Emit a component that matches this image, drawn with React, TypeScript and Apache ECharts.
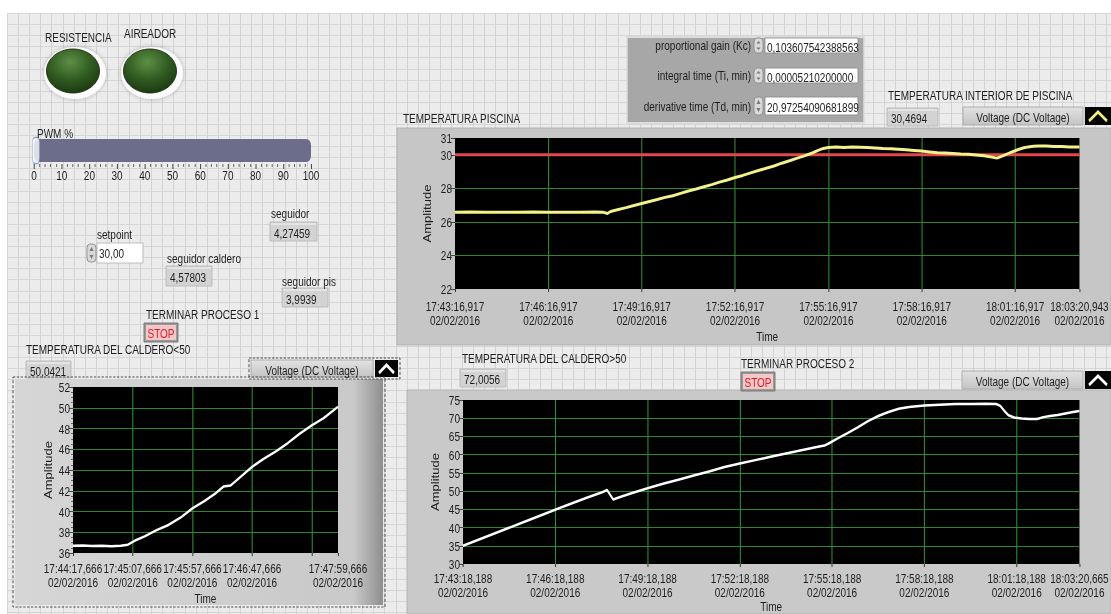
import React, { useEffect, useRef } from 'react';
import * as echarts from 'echarts';

const W = 1111;
const H = 614;
// the reference screenshot is horizontally compressed; the chart is laid out wider and squeezed with CSS
const SX = 0.77;
const LW = W / SX;
const X = (v: number) => v / SX;
const FONT = '"Liberation Sans", Arial, sans-serif';
const FS = 13;
const GREEN = '#2f9a2f';

// ---------- data ----------
const DATE_LABEL = '02/02/2016';
const SETPOINT = 30;
const PWM_VALUE = 0;
const PWM_TICK_INTERVAL = 10;

// TEMPERATURA PISCINA
const PISCINA_START = '17:43:16,917';
const PISCINA_END = '18:03:20,943';
const PISCINA_TICK_S = 180;
const PISCINA_Y_MIN = 22;
const PISCINA_Y_MAX = 31;
const PISCINA_Y_STEP = 2;
const PISCINA_T = [0, 30, 60, 90, 120, 150, 180, 210, 240, 270, 285, 294, 300, 315, 330, 345, 360, 375, 390, 405, 420, 435, 450, 465, 480, 495, 510, 525, 540, 555, 570, 585, 600, 615, 630, 645, 660, 675, 690, 700, 710, 720, 735, 750, 765, 780, 795, 810, 825, 840, 855, 870, 885, 900, 915, 930, 945, 960, 975, 990, 1005, 1020, 1035, 1045, 1055, 1065, 1075, 1085, 1095, 1105, 1115, 1125, 1140, 1155, 1170, 1185, 1204.026];
const PISCINA_V = [26.58, 26.59, 26.58, 26.57, 26.58, 26.59, 26.58, 26.57, 26.58, 26.59, 26.58, 26.5, 26.62, 26.74, 26.85, 26.98, 27.1, 27.22, 27.33, 27.46, 27.56, 27.7, 27.84, 27.96, 28.09, 28.22, 28.37, 28.5, 28.65, 28.77, 28.92, 29.06, 29.2, 29.33, 29.5, 29.64, 29.8, 29.95, 30.12, 30.26, 30.38, 30.43, 30.46, 30.44, 30.47, 30.45, 30.43, 30.41, 30.38, 30.36, 30.33, 30.3, 30.26, 30.22, 30.17, 30.12, 30.1, 30.08, 30.05, 30.03, 29.99, 29.94, 29.86, 29.8, 29.92, 30.05, 30.18, 30.3, 30.4, 30.47, 30.51, 30.53, 30.52, 30.5, 30.49, 30.46, 30.47];

// TEMPERATURA DEL CALDERO>50
const CALDERO_ALTO_START = '17:43:18,188';
const CALDERO_ALTO_END = '18:03:20,665';
const CALDERO_ALTO_TICK_S = 180;
const CALDERO_ALTO_Y_MIN = 30;
const CALDERO_ALTO_Y_MAX = 75;
const CALDERO_ALTO_Y_STEP = 5;
const CALDERO_ALTO_T = [0, 40, 80, 120, 160, 200, 240, 270, 281, 293, 305, 330, 360, 390, 420, 450, 480, 510, 540, 570, 600, 630, 660, 690, 705, 715, 730, 750, 770, 790, 810, 830, 850, 870, 900, 930, 960, 990, 1020, 1040, 1048, 1056, 1064, 1075, 1090, 1105, 1120, 1132, 1145, 1160, 1175, 1190, 1202.477];
const CALDERO_ALTO_V = [35.0, 37.2, 39.4, 41.6, 43.8, 46.0, 48.1, 49.6, 50.3, 47.7, 48.3, 49.5, 50.8, 52.0, 53.1, 54.3, 55.4, 56.6, 57.6, 58.5, 59.4, 60.3, 61.2, 62.1, 62.5, 63.2, 64.4, 65.9, 67.5, 69.2, 70.6, 71.7, 72.6, 73.1, 73.5, 73.7, 73.9, 73.9, 74.0, 73.9, 73.4, 72.0, 70.8, 70.2, 69.9, 69.8, 69.8, 70.3, 70.6, 70.9, 71.3, 71.7, 72.0];

// TEMPERATURA DEL CALDERO<50
const CALDERO_BAJO_START = '17:44:17,666';
const CALDERO_BAJO_END = '17:47:59,666';
const CALDERO_BAJO_TICK_S = 50;
const CALDERO_BAJO_Y_MIN = 36;
const CALDERO_BAJO_Y_MAX = 52;
const CALDERO_BAJO_Y_STEP = 2;
const CALDERO_BAJO_T = [0, 8, 16, 24, 32, 40, 46, 52, 60, 70, 80, 90, 100, 110, 120, 126, 132, 140, 150, 160, 170, 180, 190, 200, 210, 222];
const CALDERO_BAJO_V = [36.7, 36.72, 36.68, 36.7, 36.66, 36.7, 36.8, 37.2, 37.6, 38.2, 38.7, 39.4, 40.3, 41.0, 41.8, 42.4, 42.5, 43.3, 44.3, 45.1, 45.8, 46.6, 47.5, 48.3, 49.0, 50.1];

// panel values
const IND_PISCINA = '30,4694';
const IND_CALDERO_ALTO = '72,0056';
const IND_CALDERO_BAJO = '50,0421';
const PID_LABELS = ['proportional gain (Kc)', 'integral time (Ti, min)', 'derivative time (Td, min)'];
const PID_VALUES = ['0,103607542388563', '0,00005210200000', '20,97254090681899'];
const SETPOINT_TEXT = '30,00';
const SEGUIDOR = '4,27459';
const SEGUIDOR_CALDERO = '4,57803';
const SEGUIDOR_PIS = '3,9939';
const LEGEND_NAME = 'Voltage (DC Voltage)';

// ---------- helpers ----------
const toMs = (s: string) => {
  const [hms, ms] = s.split(',');
  const [h, m, sec] = hms.split(':').map(Number);
  return ((h * 60 + m) * 60 + sec) * 1000 + Number(ms);
};
const pad = (n: number, l = 2) => String(n).padStart(l, '0');
const timeFmt = (startMs: number, v: number) => {
  const t = startMs + Math.round(v * 1000);
  const h = Math.floor(t / 3600000);
  const m = Math.floor(t / 60000) % 60;
  const s = Math.floor(t / 1000) % 60;
  const ms = t % 1000;
  return `${h}:${pad(m)}:${pad(s)},${pad(ms, 3)}\n${DATE_LABEL}`;
};
const zip = (t: number[], v: number[]) => t.map((x, i) => [x, v[i]]);
const pts = (p: number[][]) => p.map(([x, y]) => [X(x), y]);

const txt = (x: number, y: number, text: string, extra: any = {}) => ({
  type: 'text', x: X(x), y, z: 6,
  style: { text, fontFamily: FONT, fontSize: FS, fill: '#1e1e1e', align: 'left', verticalAlign: 'middle', ...extra },
});
const rect = (x: number, y: number, w: number, h: number, style: any, z = -5, r = 0) => ({
  type: 'rect', z, shape: { x: X(x), y, width: X(w), height: h, r }, style,
});
const indicator = (x: number, y: number, w: number, h: number, value: string) => [
  rect(x, y, w, h, { fill: '#d3d3d3', stroke: '#b8b8b8', lineWidth: 1 }, 2),
  rect(x + 1, y + 1, w - 2, 2, { fill: '#e4e4e4' }, 3),
  txt(x + 4, y + h / 2 + 1, value),
];
const legend = (x: number, y: number, w: number, h: number, caret: string, iconW: number) => [
  rect(x, y, w - iconW - 2, h, {
    fill: new echarts.graphic.LinearGradient(0, 0, 0, 1, [
      { offset: 0, color: '#e2e2e2' }, { offset: 1, color: '#c4c4c4' },
    ]), stroke: '#a8a8a8', lineWidth: 1,
  }, 2),
  txt(x + (w - iconW - 2) / 2, y + h / 2 + 1, LEGEND_NAME, { align: 'center' }),
  rect(x + w - iconW, y, iconW, h, { fill: '#050505' }, 2),
  {
    type: 'polyline', z: 3,
    shape: { points: pts([[x + w - iconW + 4, y + h - 4], [x + w - iconW / 2, y + 5], [x + w - 4, y + h - 4]]) },
    style: { stroke: caret, lineWidth: 3, fill: 'none' },
  },
];
const led = (cx: number, cy: number) => [
  { type: 'ellipse', z: 1, shape: { cx: X(cx + 2), cy: cy + 2, rx: X(31), ry: 26 },
    style: { fill: '#fbfbfb', shadowBlur: 5, shadowColor: 'rgba(0,0,0,0.25)' } },
  { type: 'ellipse', z: 2, shape: { cx: X(cx), cy, rx: X(26.5), ry: 22 },
    style: {
      fill: new echarts.graphic.RadialGradient(0.45, 0.3, 0.75, [
        { offset: 0, color: '#5d8f44' }, { offset: 0.55, color: '#2f5a20' }, { offset: 1, color: '#1a3510' },
      ]),
      stroke: '#1a2e12', lineWidth: 1,
    } },
];
const stopBtn = (x: number, y: number) => [
  rect(x, y, 34, 19, { fill: '#9a9a9a', stroke: '#6e6e6e', lineWidth: 1 }, 2),
  rect(x + 2, y + 2, 30, 15, { fill: '#f1c9c9' }, 3),
  txt(x + 17, y + 10, 'STOP', { align: 'center', fill: '#e3182a' }),
];
const spinner = (x: number, y: number, h: number) => [
  rect(x, y, 9, h, { fill: '#d9d9d9', stroke: '#8a8a8a', lineWidth: 1 }, 3, 4),
  { type: 'polygon', z: 4, shape: { points: pts([[x + 2.5, y + h / 2 - 2], [x + 4.5, y + 3], [x + 6.5, y + h / 2 - 2]]) }, style: { fill: '#777' } },
  { type: 'polygon', z: 4, shape: { points: pts([[x + 2.5, y + h / 2 + 2], [x + 4.5, y + h - 3], [x + 6.5, y + h / 2 + 2]]) }, style: { fill: '#777' } },
];

function buildGraphic() {
  const g: any[] = [];
  g.push(rect(0, 0, W, H, { fill: '#ffffff' }, -30));
  g.push(rect(7, 13, W - 7, H - 13, { fill: '#ececec' }, -29));
  for (let x = 7; x < W; x += 11.1) {
    const px = X(Math.round(x) + 0.5);
    g.push({ type: 'line', z: -28, shape: { x1: px, y1: 13, x2: px, y2: H }, style: { stroke: '#d3d3d3', lineWidth: 1 / SX } });
  }
  for (let y = 13; y < H; y += 11.1) {
    const py = Math.round(y) + 0.5;
    g.push({ type: 'line', z: -28, shape: { x1: X(7), y1: py, x2: LW, y2: py }, style: { stroke: '#d3d3d3', lineWidth: 1 } });
  }
  // LEDs
  g.push(txt(45, 37, 'RESISTENCIA'));
  g.push(txt(124, 33, 'AIREADOR'));
  g.push(...led(73, 71), ...led(150, 71));
  // PWM
  g.push(txt(37, 133, 'PWM %'));
  // setpoint & seguidores
  g.push(txt(97, 234, 'setpoint'));
  g.push(...spinner(87, 244, 18));
  g.push(rect(97, 243, 46, 20, { fill: '#ffffff', stroke: '#b5b5b5', lineWidth: 1 }, 2));
  g.push(txt(99, 253, SETPOINT_TEXT));
  g.push(txt(271, 213, 'seguidor'));
  g.push(...indicator(270, 222, 47, 19, SEGUIDOR));
  g.push(txt(167, 258, 'seguidor caldero'));
  g.push(...indicator(166, 266, 46, 20, SEGUIDOR_CALDERO));
  g.push(txt(282, 281, 'seguidor pis'));
  g.push(...indicator(282, 288, 46, 19, SEGUIDOR_PIS));
  g.push(txt(146, 314, 'TERMINAR PROCESO 1'));
  g.push(...stopBtn(144, 323));
  // PID cluster
  g.push(rect(627, 37, 237, 86, { fill: '#a7a7a7', stroke: '#dcdcdc', lineWidth: 2 }, -4));
  const rows = [[45, 38, 15], [75, 68, 15], [106, 97, 18]];
  rows.forEach(([cy, by, bh], i) => {
    g.push(txt(751, cy, PID_LABELS[i], { align: 'right' }));
    g.push(...spinner(754, by, bh));
    g.push(rect(765, by, 93, bh, { fill: '#ffffff', stroke: '#8c8c8c', lineWidth: 1 }, 2));
    g.push(txt(767, by + bh / 2 + 1, PID_VALUES[i]));
  });
  // chart 1 panel
  g.push(txt(888, 95, 'TEMPERATURA INTERIOR DE PISCINA'));
  g.push(...indicator(887, 108, 51, 18, IND_PISCINA));
  g.push(...legend(963, 107, 148, 18, '#f2f07a', 26));
  g.push(txt(403, 118, 'TEMPERATURA PISCINA'));
  g.push(rect(397, 128, 714, 217, { fill: '#c6c6c6', stroke: '#b0b0b0', lineWidth: 1 }, -10));
  // chart 2 panel
  g.push(txt(462, 358, 'TEMPERATURA DEL CALDERO>50'));
  g.push(...indicator(460, 369, 46, 18, IND_CALDERO_ALTO));
  g.push(txt(741, 363, 'TERMINAR PROCESO 2'));
  g.push(...stopBtn(741, 372));
  g.push(...legend(962, 371, 149, 18, '#ffffff', 26));
  g.push(rect(407, 390, 704, 224, { fill: '#c9c9c9', stroke: '#b0b0b0', lineWidth: 1 }, -10));
  // chart 3 panel
  g.push(txt(26, 349, 'TEMPERATURA DEL CALDERO<50'));
  g.push(...indicator(26, 361, 45, 17, IND_CALDERO_BAJO));
  g.push(rect(249, 358, 151, 21, { fill: 'none', stroke: '#3a3a3a', lineWidth: 1, lineDash: [3, 2] }, 4));
  g.push(...legend(251, 360, 147, 17, '#ffffff', 23));
  g.push(rect(15, 379, 368, 226, {
    fill: new echarts.graphic.LinearGradient(0, 0, 1, 0, [
      { offset: 0, color: '#d6d6d6' }, { offset: 0.92, color: '#c9c9c9' }, { offset: 1, color: '#8f8f8f' },
    ]),
  }, -10));
  g.push(rect(13, 377, 372, 230, { fill: 'none', stroke: '#3a3a3a', lineWidth: 1, lineDash: [3, 2] }, 4));
  return g;
}

function timeAxis(gridIndex: number, start: string, end: string, interval: number, margin: number, nameGap: number, hideNearEnd: boolean) {
  const startMs = toMs(start);
  const max = (toMs(end) - startMs) / 1000;
  return {
    type: 'value', gridIndex, min: 0, max, interval,
    name: 'Time', nameLocation: 'middle', nameGap,
    nameTextStyle: { fontFamily: FONT, fontSize: FS, color: '#1e1e1e' },
    axisLine: { show: false },
    axisTick: { show: true, length: 3, lineStyle: { color: '#333', width: 1 / SX } },
    axisLabel: {
      fontFamily: FONT, fontSize: FS, color: '#1e1e1e', margin, lineHeight: 14,
      showMinLabel: true, showMaxLabel: true,
      formatter: (v: number) => (hideNearEnd && v !== max && max - v < interval * 0.6 ? '' : timeFmt(startMs, v)),
    },
    splitLine: { show: true, showMinLine: false, showMaxLine: false, lineStyle: { color: GREEN, width: 1 / SX } },
  };
}
function ampAxis(gridIndex: number, min: number, max: number, interval: number, nameGap: number, minor: boolean) {
  return {
    type: 'value', gridIndex, min, max, interval,
    name: 'Amplitude', nameLocation: 'middle', nameGap: X(nameGap),
    nameTextStyle: { fontFamily: FONT, fontSize: FS, color: '#1e1e1e' },
    axisLine: { show: false },
    axisTick: { show: true, length: X(4), lineStyle: { color: '#333' } },
    minorTick: { show: minor, splitNumber: 4, length: X(2), lineStyle: { color: '#555' } },
    axisLabel: { fontFamily: FONT, fontSize: FS, color: '#1e1e1e', margin: X(3), showMinLabel: true, showMaxLabel: true },
    splitLine: { show: true, showMinLine: false, showMaxLine: false, lineStyle: { color: GREEN, width: 1 } },
  };
}

function buildOption() {
  const piscinaMax = (toMs(PISCINA_END) - toMs(PISCINA_START)) / 1000;
  return {
    animation: false,
    textStyle: { fontFamily: FONT },
    graphic: { elements: buildGraphic() },
    grid: [
      { left: X(34), top: 139, width: X(277), height: 23, show: false },
      { left: X(455), top: 138, width: X(630), height: 151, show: true, backgroundColor: '#000000', borderWidth: 0 },
      { left: X(463), top: 400, width: X(622), height: 164, show: true, backgroundColor: '#000000', borderWidth: 0 },
      { left: X(73), top: 387, width: X(265), height: 166, show: true, backgroundColor: '#000000', borderWidth: 0 },
    ],
    xAxis: [
      {
        type: 'value', gridIndex: 0, min: 0, max: 100, interval: PWM_TICK_INTERVAL, offset: 2,
        axisLine: { show: false },
        axisTick: { show: true, length: 5, lineStyle: { color: '#444', width: 1 / SX } },
        minorTick: { show: true, splitNumber: 5, length: 3, lineStyle: { color: '#666', width: 1 / SX } },
        axisLabel: { fontFamily: FONT, fontSize: FS, color: '#1e1e1e', margin: 4 },
        splitLine: { show: false },
      },
      timeAxis(1, PISCINA_START, PISCINA_END, PISCINA_TICK_S, 10, 40, false),
      timeAxis(2, CALDERO_ALTO_START, CALDERO_ALTO_END, CALDERO_ALTO_TICK_S, 7, 35, false),
      timeAxis(3, CALDERO_BAJO_START, CALDERO_BAJO_END, CALDERO_BAJO_TICK_S, 8, 38, true),
    ],
    yAxis: [
      { type: 'category', gridIndex: 0, data: ['PWM %'], show: false },
      ampAxis(1, PISCINA_Y_MIN, PISCINA_Y_MAX, PISCINA_Y_STEP, 22, false),
      ampAxis(2, CALDERO_ALTO_Y_MIN, CALDERO_ALTO_Y_MAX, CALDERO_ALTO_Y_STEP, 20, false),
      ampAxis(3, CALDERO_BAJO_Y_MIN, CALDERO_BAJO_Y_MAX, CALDERO_BAJO_Y_STEP, 20, true),
    ],
    series: [
      {
        type: 'bar', xAxisIndex: 0, yAxisIndex: 0, data: [PWM_VALUE], barWidth: 23,
        showBackground: true, backgroundStyle: { color: '#6c6c8b', borderRadius: 6 },
        itemStyle: { color: '#6c6c8b' }, silent: true,
      },
      {
        type: 'scatter', xAxisIndex: 0, yAxisIndex: 0, data: [[PWM_VALUE, 'PWM %']],
        symbol: 'roundRect', symbolSize: [X(7), 26], symbolOffset: [X(2), 0],
        itemStyle: { color: '#fbfbfb', borderColor: '#6f8fc8', borderWidth: 1 }, z: 5,
      },
      {
        type: 'line', xAxisIndex: 1, yAxisIndex: 1, data: [[0, SETPOINT], [piscinaMax, SETPOINT]],
        symbol: 'none', lineStyle: { color: '#e4474b', width: 3 }, z: 2,
      },
      {
        type: 'line', xAxisIndex: 1, yAxisIndex: 1, data: zip(PISCINA_T, PISCINA_V),
        symbol: 'none', lineStyle: { color: '#f4f28a', width: 3 }, z: 3,
      },
      {
        type: 'line', xAxisIndex: 2, yAxisIndex: 2, data: zip(CALDERO_ALTO_T, CALDERO_ALTO_V),
        symbol: 'none', lineStyle: { color: '#ffffff', width: 2.5 }, z: 3,
      },
      {
        type: 'line', xAxisIndex: 3, yAxisIndex: 3, data: zip(CALDERO_BAJO_T, CALDERO_BAJO_V),
        symbol: 'none', lineStyle: { color: '#ffffff', width: 2.5 }, z: 3,
      },
    ],
  };
}

export default function App() {
  const ref = useRef<HTMLDivElement>(null);
  useEffect(() => {
    const chart = echarts.init(ref.current as HTMLDivElement, undefined, { renderer: 'svg', width: LW, height: H });
    chart.setOption(buildOption() as any);
    return () => chart.dispose();
  }, []);
  return (
    <div style={{ position: 'absolute', left: 0, top: 0, width: W, height: H, overflow: 'hidden' }}>
      <div
        ref={ref}
        style={{ position: 'absolute', left: 0, top: 0, width: LW, height: H, transform: `scaleX(${SX})`, transformOrigin: '0 0' }}
      />
    </div>
  );
}
